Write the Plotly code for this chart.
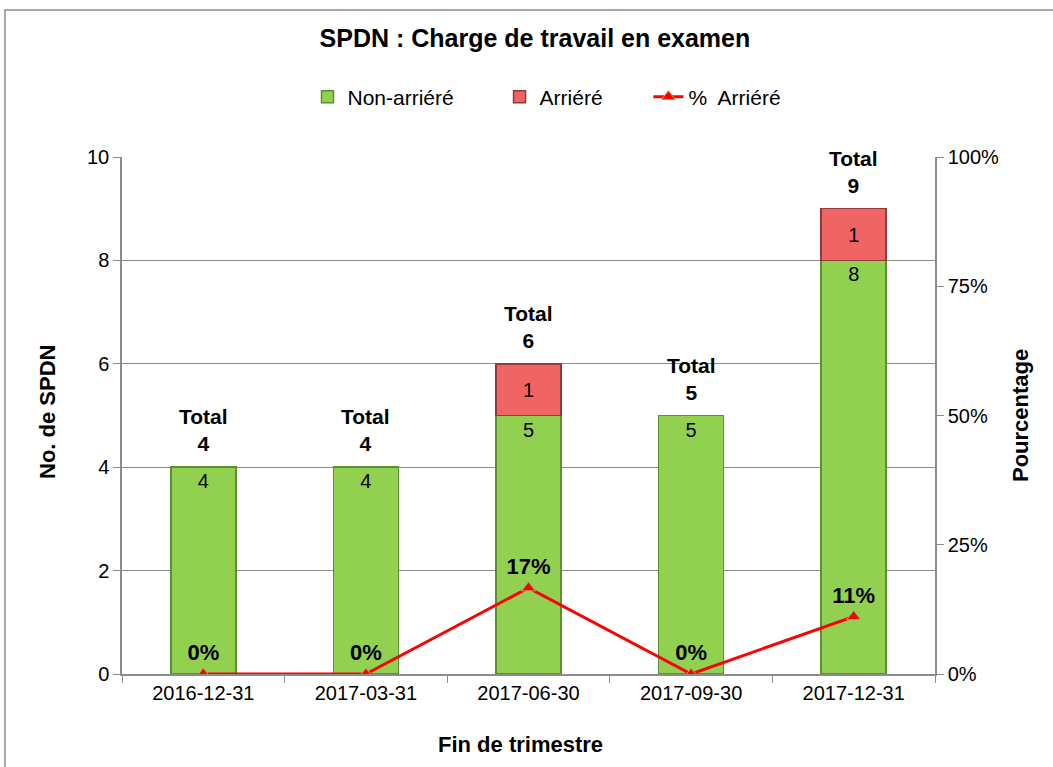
import plotly.graph_objects as go

categories = ["2016-12-31", "2017-03-31", "2017-06-30", "2017-09-30", "2017-12-31"]
non_arriere = [4, 4, 5, 5, 8]
arriere = [0, 0, 1, 0, 1]
totals = [a + b for a, b in zip(non_arriere, arriere)]
pct_arriere = [b / t for b, t in zip(arriere, totals)]
pct_labels = ["0%", "0%", "17%", "0%", "11%"]

FONT = "Liberation Sans, Arial, sans-serif"
PAD = "\u00a0" * 7

W, H = 1053, 767
L, R, T, B = 122, 935, 157, 674
pw, ph = R - L, B - T

def px(x):
    return (x - L) / pw

def py(y):
    return (B - y) / ph

fig = go.Figure()

fig.add_trace(go.Bar(
    x=categories, y=non_arriere, name="Non-arriéré" + PAD,
    marker=dict(color="#92D050", line=dict(color="#5F8E30", width=1.5)),
    text=[str(v) for v in non_arriere], textposition="inside", insidetextanchor="end",
    textfont=dict(family=FONT, size=20, color="black"),
    textangle=0,
))
fig.add_trace(go.Bar(
    x=categories, y=[v if v else None for v in arriere], name="Arriéré" + PAD,
    marker=dict(color="#F06464", line=dict(color="#8E3B3B", width=1.5)),
    text=[str(v) if v else "" for v in arriere], textposition="inside", insidetextanchor="middle",
    textfont=dict(family=FONT, size=20, color="black"),
    textangle=0,
))
fig.add_trace(go.Scatter(
    x=categories, y=pct_arriere, name="%  Arriéré", yaxis="y2",
    mode="lines+markers+text",
    line=dict(color="#FF0000", width=3),
    marker=dict(symbol="triangle-up", size=12, color="#FF0000", line=dict(color="#9BBB59", width=1)),
    text=["<b>%s</b>" % s for s in pct_labels], textposition="top center",
    textfont=dict(family=FONT, size=22, color="black"),
))

annotations = [
    dict(x=c, y=t, xref="x", yref="y", text="<b>Total<br>%d</b>" % t, showarrow=False,
         xanchor="center", yanchor="bottom", yshift=10,
         font=dict(family=FONT, size=21, color="black"))
    for c, t in zip(categories, totals)
]
annotations += [
    dict(text="<b>No. de SPDN</b>", xref="paper", yref="paper", x=px(47), y=py(412),
         textangle=-90, showarrow=False, xanchor="center", yanchor="middle",
         font=dict(family=FONT, size=22, color="black")),
    dict(text="<b>Pourcentage</b>", xref="paper", yref="paper", x=px(1020), y=py(415),
         textangle=-90, showarrow=False, xanchor="center", yanchor="middle",
         font=dict(family=FONT, size=22, color="black")),
    dict(text="<b>Fin de trimestre</b>", xref="paper", yref="paper", x=px(520), y=py(744),
         showarrow=False, xanchor="center", yanchor="middle",
         font=dict(family=FONT, size=22, color="black")),
]

fig.update_layout(
    width=W, height=H,
    margin=dict(l=L, r=W - R, t=T, b=H - B),
    paper_bgcolor="white", plot_bgcolor="white",
    barmode="stack", bargap=0.6,
    font=dict(family=FONT, size=20, color="black"),
    title=dict(text="<b>SPDN : Charge de travail en examen</b>", x=px(535), xanchor="center",
               y=1 - 38 / H, yanchor="middle", font=dict(family=FONT, size=25, color="black")),
    legend=dict(orientation="h", x=px(547), xanchor="center", y=py(97), yanchor="middle",
                font=dict(family=FONT, size=21, color="black"), traceorder="normal",
                itemwidth=30, bgcolor="rgba(0,0,0,0)"),
    xaxis=dict(type="category", showline=True, linecolor="#8C8C8C", linewidth=1.5,
               ticks="outside", ticklen=7, tickcolor="#8C8C8C", tickson="boundaries",
               tickfont=dict(family=FONT, size=20, color="black"), showgrid=False),
    yaxis=dict(range=[0, 10], dtick=2, showline=True, linecolor="#8C8C8C", linewidth=1.5,
               ticks="outside", ticklen=7, tickcolor="#8C8C8C",
               gridcolor="#8C8C8C", gridwidth=1, zeroline=False,
               tickfont=dict(family=FONT, size=20, color="black")),
    yaxis2=dict(range=[0, 1], dtick=0.25, tickformat=".0%", overlaying="y", side="right",
                showline=True, linecolor="#8C8C8C", linewidth=1.5,
                ticks="outside", ticklen=7, tickcolor="#8C8C8C", showgrid=False, zeroline=False,
                tickfont=dict(family=FONT, size=20, color="black")),
    annotations=annotations,
    shapes=[
        dict(type="rect", xref="paper", yref="paper", x0=px(5), x1=px(1070), y0=py(790), y1=py(10),
             line=dict(color="#8C8C8C", width=1.5), fillcolor="rgba(0,0,0,0)", layer="above"),
    ],
)

fig.write_html("out.html", config={"displayModeBar": False},
               post_script="document.body.style.margin='0';document.body.style.overflow='hidden';")
